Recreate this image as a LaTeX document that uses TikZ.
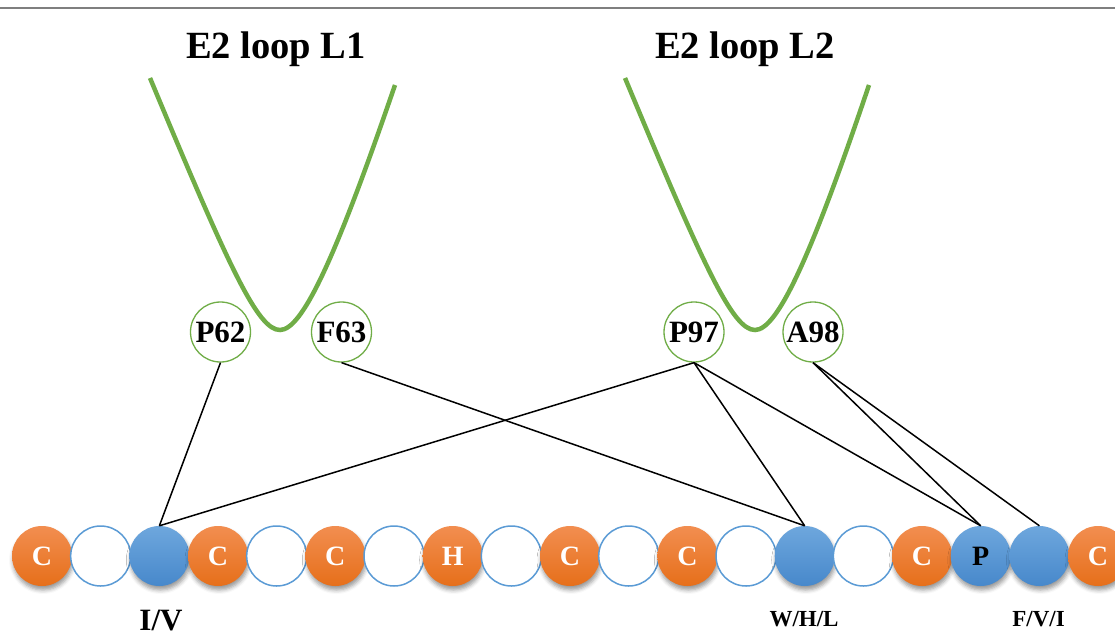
\documentclass[tikz,border=0pt]{standalone}
\usepackage{fontspec}
\setmainfont{Liberation Serif}
\usetikzlibrary{shadows.blur}
\definecolor{loopgreen}{HTML}{70AD47}
\definecolor{cystop}{HTML}{F28E50}
\definecolor{cysbot}{HTML}{E66F1A}
\definecolor{hydtop}{HTML}{6EA7DD}
\definecolor{hydbot}{HTML}{4788CB}
\definecolor{ringblue}{HTML}{5B9BD5}
\definecolor{rulegrey}{HTML}{7F7F7F}
\tikzset{
  residue/.style={circle, minimum size=60pt, inner sep=0pt},
  softshadow/.style={blur shadow={shadow xshift=1pt, shadow yshift=-4pt,
      shadow blur radius=4pt, shadow opacity=40}},
  rescys/.style={residue, top color=cystop, bottom color=cysbot, softshadow,
      text=white, font=\fontsize{28}{28}\selectfont\bfseries},
  resopen/.style={residue, draw=ringblue, line width=1.5pt, fill=white},
  reshyd/.style={residue, top color=hydtop, bottom color=hydbot, softshadow,
      text=black, font=\fontsize{28}{28}\selectfont\bfseries},
  site/.style={circle, draw=loopgreen, line width=1.3pt, fill=white,
      minimum size=60pt, inner sep=0pt, font=\fontsize{31}{31}\selectfont\bfseries},
  loopline/.style={draw=loopgreen, line width=4.5pt},
  contact/.style={draw=black, line width=1.5pt},
  title/.style={anchor=base, font=\fontsize{38.5}{40}\selectfont\bfseries},
  reslabel/.style={anchor=base, font=\fontsize{23}{23}\selectfont\bfseries},
}
\begin{document}
\begin{tikzpicture}[x=1pt, y=-1pt]
  \useasboundingbox (0,0) rectangle (1115,637);
  % top rule
  \draw[rulegrey, line width=2pt] (0,7.5) -- (1115,7.5);

  % loop titles
  \node[title] (t1) at (276,58) {E2 loop L1};
  \node[title] (t2) at (745,58) {E2 loop L2};

  % E2 loops
  \draw[loopline] (150,78) .. controls (230,270) and (258,330) .. (280,330)
                           .. controls (302,330) and (335,260) .. (395,85);
  \draw[loopline] (625,78) .. controls (705,270) and (733,330) .. (755,330)
                           .. controls (777,330) and (810,260) .. (869,85);

  % contact residues on the loops
  \node[site] (p62) at (220.5,332) {P62};
  \node[site] (f63) at (341.5,332) {F63};
  \node[site] (p97) at (694,332) {P97};
  \node[site] (a98) at (813,332) {A98};

  % receptor sequence
  \foreach \s/\l [count=\i] in {rescys/C, resopen/{}, reshyd/{}, rescys/C, resopen/{},
      rescys/C, resopen/{}, rescys/H, resopen/{}, rescys/C, resopen/{}, rescys/C,
      resopen/{}, reshyd/{}, resopen/{}, rescys/C, reshyd/P, reshyd/{}, rescys/C}
    \node[\s] (r\i) at ({42+58.67*(\i-1)},556) {\l};

  % residue classes
  \node[reslabel, font=\fontsize{31}{31}\selectfont\bfseries] (lIV) at (161,630) {I/V};
  \node[reslabel] (lWHL) at (804,626) {W/H/L};
  \node[reslabel] (lFVI) at (1038.5,626) {F/V/I};

  % contacts
  \draw[contact] (p62.south) -- (r3.north);
  \draw[contact] (f63.south) -- (r14.north);
  \draw[contact] (p97.south) -- (r3.north);
  \draw[contact] (p97.south) -- (r14.north);
  \draw[contact] (p97.south) -- (r17.north);
  \draw[contact] (a98.south) -- (r17.north);
  \draw[contact] (a98.south) -- (r18.north);
\end{tikzpicture}
\end{document}
